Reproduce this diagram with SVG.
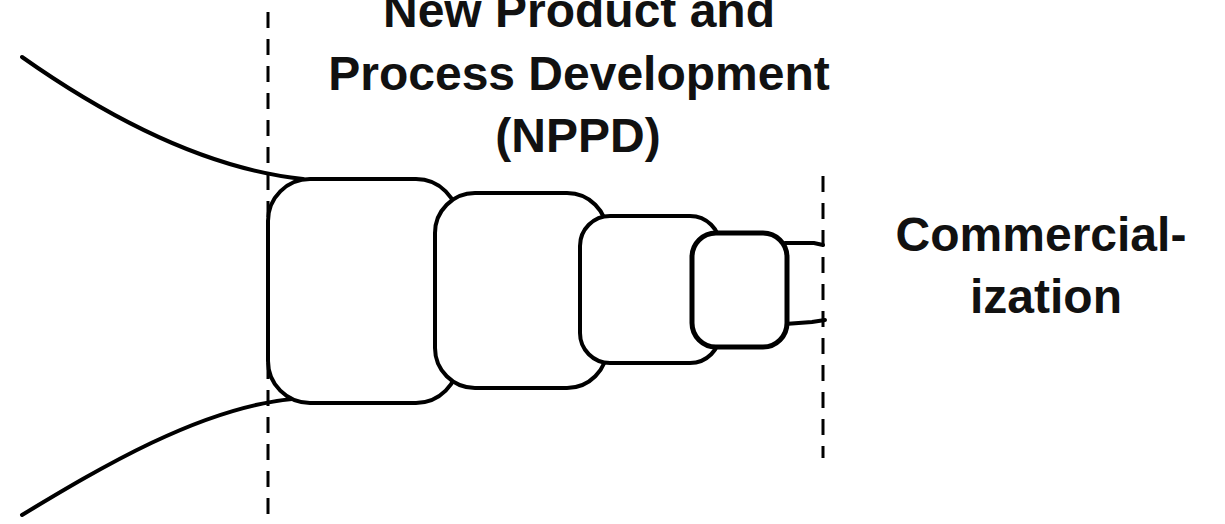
<svg xmlns="http://www.w3.org/2000/svg" width="1225" height="524" viewBox="0 0 1225 524">
<style>
.bg{fill:#ffffff}
.box{fill:#ffffff;stroke:#000000;stroke-width:4}
.curve{fill:none;stroke:#000000;stroke-width:4;stroke-linecap:round}
.dash{fill:none;stroke:#000000;stroke-width:3;stroke-dasharray:16 11}
.t{font-family:"Liberation Sans",Arial,sans-serif;font-weight:bold;font-size:48px;fill:#111111}
</style>
<rect class="bg" x="0" y="0" width="1225" height="524"/>
<g id="boundaries">
<line class="dash" x1="268" y1="12" x2="268" y2="524"/>
<line class="dash" x1="823" y1="176" x2="823" y2="458"/>
</g>
<g id="connectors">
<path class="curve" d="M22,57 C100,112 200,168 303,179"/>
<path class="curve" d="M22,515 C100,468 200,408 292,399"/>
<path class="curve" d="M785,243 L814,243 L823,245"/>
<path class="curve" d="M785,324 L812,322 L825,320"/>
</g>
<g id="stage1"><rect class="box" x="268" y="179" width="190" height="224" rx="42" ry="42"/></g>
<g id="stage2"><rect class="box" x="435" y="193" width="172" height="195" rx="40" ry="40"/></g>
<g id="stage3"><rect class="box" x="580" y="216" width="140" height="147" rx="30" ry="30"/></g>
<g id="stage4"><rect class="box" x="692" y="233" width="95" height="114" rx="24" ry="24" style="stroke-width:5"/></g>
<g id="label-nppd">
<text class="t" x="579" y="27" text-anchor="middle">New Product and</text>
<text class="t" x="579" y="90" text-anchor="middle">Process Development</text>
<text class="t" x="578" y="152" text-anchor="middle">(NPPD)</text>
</g>
<g id="label-commercialization">
<text class="t" x="1041" y="251" text-anchor="middle">Commercial-</text>
<text class="t" x="1046" y="313" text-anchor="middle">ization</text>
</g>
</svg>
